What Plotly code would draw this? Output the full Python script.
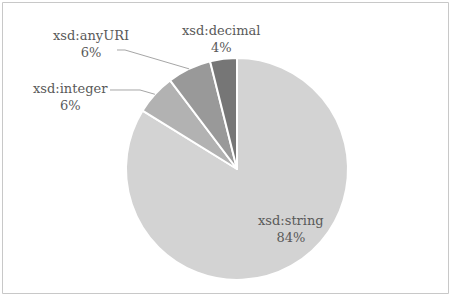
import math
import plotly.graph_objects as go

# ---- data ----
categories = ["xsd:string", "xsd:integer", "xsd:anyURI", "xsd:decimal"]
values = [83.8, 5.9, 6.4, 3.9]
colors = ["#d3d3d3", "#b2b2b2", "#999999", "#767676"]

W, H = 453, 299
# pie geometry in pixels
cx, cy, r = 237, 169, 111

fig = go.Figure()
fig.add_trace(go.Pie(
    labels=categories, values=values, sort=False, direction="clockwise", rotation=0,
    marker=dict(colors=colors, line=dict(color="white", width=2)),
    textinfo="none", hoverinfo="label+percent", showlegend=False,
    domain=dict(x=[(cx - r) / W, (cx + r) / W], y=[(H - cy - r) / H, (H - cy + r) / H]),
))

def px(x, y):
    return x / W, 1 - y / H

total = sum(values)
pct = {c: round(100 * v / total) for c, v in zip(categories, values)}

# label positions (pixel, center of block) for layout
label_pos = {
    "xsd:string": (291, 229),
    "xsd:integer": (70, 97),
    "xsd:anyURI": (91, 44),
    "xsd:decimal": (221, 39),
}
font = dict(family="DejaVu Serif", size=13, color="#595959")
for c in categories:
    x, y = px(*label_pos[c])
    fig.add_annotation(x=x, y=y, xref="paper", yref="paper", showarrow=False,
                       text=f"{c}<br>{pct[c]}%", font=font, align="center",
                       xanchor="center", yanchor="middle")

# leader lines to slice midpoints on the arc
cum = 0
mids = {}
for c, v in zip(categories, values):
    a = (cum + v / 2) / total * 2 * math.pi
    mids[c] = (cx + r * math.sin(a), cy - r * math.cos(a))
    cum += v

leaders = {
    "xsd:anyURI": [(117, 50), (125, 50)],
    "xsd:integer": [(110, 90), (140, 90)],
}
for c, pts in leaders.items():
    pts = pts + [mids[c]]
    path = "M " + " L ".join(f"{px(x, y)[0]:.5f},{px(x, y)[1]:.5f}" for x, y in pts)
    fig.add_shape(type="path", path=path, xref="paper", yref="paper",
                  line=dict(color="#a6a6a6", width=1))

# chart border
x0, y0 = px(2.5, 2.5)
x1, y1 = px(448.5, 293.5)
fig.add_shape(type="rect", xref="paper", yref="paper", x0=x0, y0=y1, x1=x1, y1=y0,
              line=dict(color="#c8c8c8", width=1))

fig.update_layout(width=W, height=H, margin=dict(l=0, r=0, t=0, b=0),
                  paper_bgcolor="white", plot_bgcolor="white")
fig.write_html("out.html")
